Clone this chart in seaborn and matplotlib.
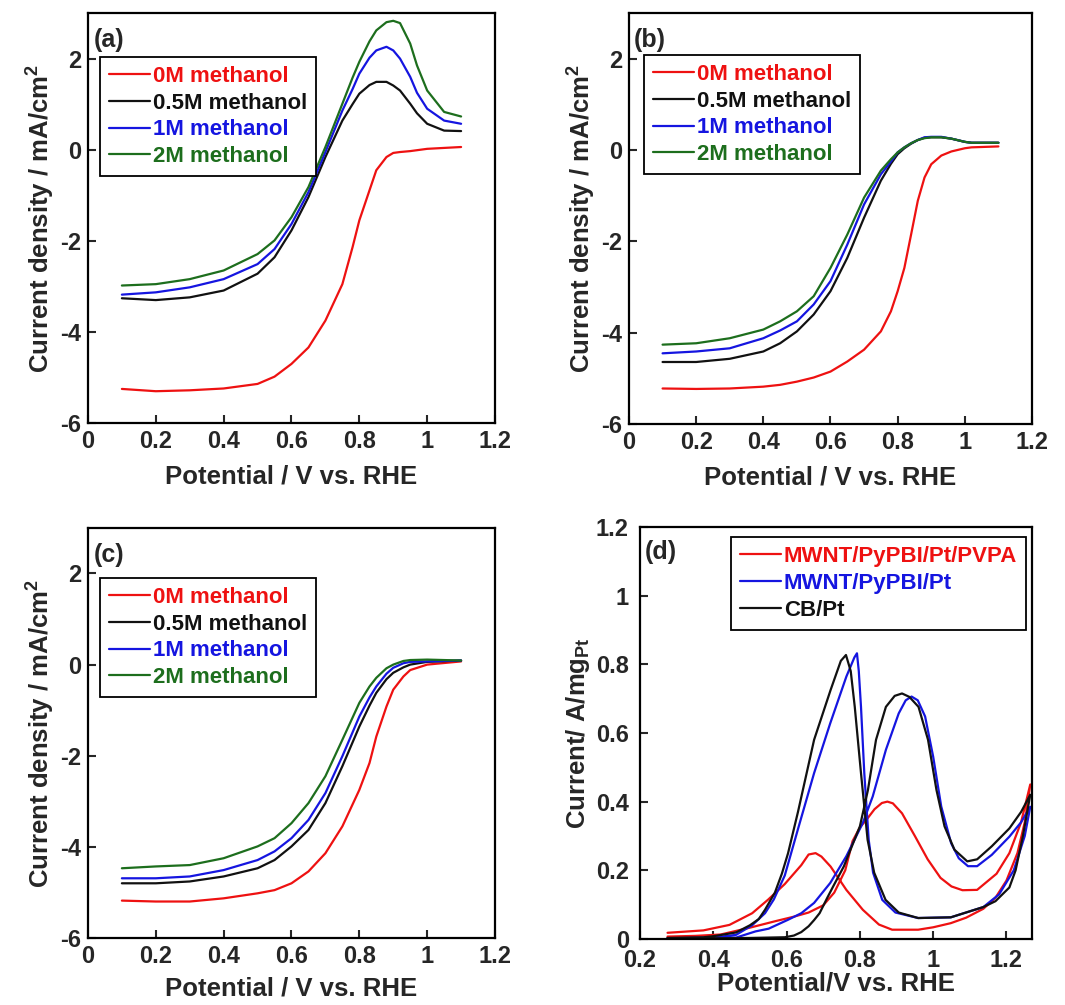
import numpy as np
import pandas as pd
import matplotlib
matplotlib.use("Agg")
import matplotlib.pyplot as plt
from matplotlib.ticker import FuncFormatter
import seaborn as sns

# ---------------- data ----------------
conc_labels = ["0M methanol", "0.5M methanol", "1M methanol", "2M methanol"]
conc_colors = ["#ee1111", "#111111", "#1515e0", "#1d6e1d"]

# panel (a)
a_x = [0.10, 0.20, 0.30, 0.40, 0.50, 0.55, 0.60, 0.65, 0.70, 0.75, 0.78, 0.80,
       0.83, 0.85, 0.88, 0.90, 0.92, 0.95, 0.97, 1.00, 1.05, 1.10]
a_0M = [-5.25, -5.30, -5.28, -5.24, -5.14, -4.98, -4.70, -4.34, -3.75, -2.95, -2.14, -1.55,
        -0.89, -0.45, -0.16, -0.07, -0.05, -0.03, -0.01, 0.02, 0.04, 0.06]
a_05M = [-3.26, -3.30, -3.24, -3.09, -2.72, -2.36, -1.77, -1.04, -0.16, 0.64, 1.00, 1.23,
         1.42, 1.49, 1.49, 1.41, 1.30, 1.01, 0.80, 0.57, 0.42, 0.41]
a_1M = [-3.18, -3.13, -3.02, -2.84, -2.51, -2.18, -1.63, -0.93, -0.05, 0.86, 1.33, 1.67,
        2.02, 2.18, 2.26, 2.18, 2.00, 1.60, 1.25, 0.90, 0.64, 0.57]
a_2M = [-2.98, -2.95, -2.84, -2.65, -2.29, -1.99, -1.48, -0.82, 0.06, 1.01, 1.58, 1.93,
        2.38, 2.62, 2.80, 2.83, 2.78, 2.33, 1.85, 1.30, 0.83, 0.73]

# panel (b)
b_x = [0.10, 0.20, 0.30, 0.40, 0.45, 0.50, 0.55, 0.60, 0.65, 0.70, 0.75, 0.78,
       0.80, 0.82, 0.84, 0.86, 0.88, 0.90, 0.93, 0.96, 1.00, 1.02, 1.10]
b_0M = [-5.22, -5.23, -5.22, -5.18, -5.14, -5.07, -4.98, -4.85, -4.63, -4.37, -3.97, -3.53,
        -3.09, -2.58, -1.85, -1.11, -0.60, -0.31, -0.12, -0.03, 0.04, 0.06, 0.08]
b_05M = [-4.64, -4.64, -4.57, -4.41, -4.23, -3.97, -3.60, -3.09, -2.36, -1.48, -0.67, -0.30,
         -0.09, 0.04, 0.14, 0.22, 0.27, 0.28, 0.28, 0.25, 0.18, 0.16, 0.16]
b_1M = [-4.45, -4.41, -4.34, -4.12, -3.95, -3.75, -3.38, -2.87, -2.07, -1.19, -0.53, -0.25,
        -0.05, 0.06, 0.15, 0.22, 0.28, 0.29, 0.29, 0.25, 0.18, 0.16, 0.16]
b_2M = [-4.26, -4.23, -4.12, -3.93, -3.75, -3.53, -3.20, -2.58, -1.85, -1.04, -0.45, -0.20,
        -0.05, 0.06, 0.15, 0.22, 0.26, 0.28, 0.28, 0.25, 0.18, 0.16, 0.16]

# panel (c)
c_x = [0.10, 0.20, 0.30, 0.40, 0.50, 0.55, 0.60, 0.65, 0.70, 0.75, 0.80, 0.83,
       0.85, 0.88, 0.90, 0.93, 0.95, 1.00, 1.10]
c_0M = [-5.18, -5.20, -5.20, -5.13, -5.02, -4.95, -4.80, -4.54, -4.14, -3.55, -2.75, -2.16,
        -1.58, -0.92, -0.55, -0.26, -0.12, 0.00, 0.07]
c_05M = [-4.80, -4.80, -4.76, -4.65, -4.47, -4.29, -3.99, -3.63, -3.04, -2.23, -1.36, -0.90,
         -0.62, -0.32, -0.18, -0.06, 0.00, 0.06, 0.09]
c_1M = [-4.69, -4.69, -4.65, -4.51, -4.29, -4.10, -3.81, -3.41, -2.82, -2.01, -1.14, -0.72,
        -0.48, -0.20, -0.07, 0.03, 0.06, 0.07, 0.09]
c_2M = [-4.47, -4.43, -4.40, -4.25, -3.99, -3.81, -3.48, -3.04, -2.45, -1.65, -0.84, -0.48,
        -0.29, -0.08, 0.00, 0.08, 0.10, 0.11, 0.09]

# panel (d): cyclic voltammograms (forward then reverse scan)
d_labels = ["MWNT/PyPBI/Pt/PVPA", "MWNT/PyPBI/Pt", "CB/Pt"]
d_colors = ["#ee1111", "#1515e0", "#111111"]

d_pvpa_x = [0.275, 0.35, 0.42, 0.50, 0.57, 0.62, 0.66, 0.70, 0.73, 0.76, 0.78, 0.80, 0.82, 0.84,
            0.86, 0.875, 0.89, 0.915, 0.95, 0.985, 1.02, 1.05, 1.08, 1.12, 1.173, 1.208, 1.24, 1.265,
            1.25, 1.23, 1.20, 1.17, 1.137, 1.09, 1.048, 1.00, 0.959, 0.888, 0.852, 0.808, 0.763,
            0.72, 0.695, 0.679, 0.66, 0.64, 0.595, 0.55, 0.506, 0.444, 0.373, 0.275]
d_pvpa_y = [0.007, 0.009, 0.013, 0.033, 0.052, 0.065, 0.077, 0.098, 0.135, 0.20, 0.285, 0.325, 0.35, 0.378,
            0.396, 0.40, 0.395, 0.366, 0.30, 0.232, 0.178, 0.153, 0.142, 0.143, 0.19, 0.25, 0.34, 0.45,
            0.34, 0.25, 0.17, 0.12, 0.088, 0.062, 0.046, 0.034, 0.027, 0.027, 0.042, 0.085, 0.143,
            0.211, 0.24, 0.25, 0.246, 0.215, 0.16, 0.115, 0.075, 0.041, 0.025, 0.018]

d_mwnt_x = [0.275, 0.40, 0.462, 0.515, 0.551, 0.604, 0.64, 0.675, 0.719, 0.763, 0.808, 0.835, 0.871,
            0.906, 0.925, 0.941, 0.958, 0.978, 1.00, 1.022, 1.049, 1.07, 1.095, 1.12, 1.16, 1.208,
            1.24, 1.265,
            1.25, 1.22, 1.18, 1.137, 1.048, 0.959, 0.897, 0.861, 0.836, 0.824, 0.812, 0.803, 0.797,
            0.792, 0.785, 0.763, 0.719, 0.675, 0.631, 0.595, 0.565, 0.541, 0.506, 0.462, 0.40, 0.275]
d_mwnt_y = [0.002, 0.002, 0.004, 0.022, 0.030, 0.056, 0.075, 0.105, 0.163, 0.241, 0.338, 0.415, 0.551,
            0.657, 0.695, 0.706, 0.695, 0.648, 0.531, 0.386, 0.279, 0.235, 0.212, 0.212, 0.245, 0.298,
            0.34, 0.385,
            0.30, 0.20, 0.13, 0.093, 0.063, 0.061, 0.077, 0.114, 0.193, 0.289, 0.483, 0.676, 0.78,
            0.832, 0.82, 0.764, 0.628, 0.483, 0.32, 0.185, 0.115, 0.075, 0.04, 0.012, 0.004, 0.002]

d_cb_x = [0.275, 0.40, 0.50, 0.595, 0.62, 0.64, 0.66, 0.675, 0.69, 0.711, 0.728, 0.756, 0.80, 0.822,
          0.844, 0.871, 0.895, 0.915, 0.935, 0.960, 0.986, 1.009, 1.031, 1.058, 1.093, 1.12, 1.16,
          1.208, 1.24, 1.265,
          1.245, 1.225, 1.208, 1.17, 1.137, 1.048, 0.959, 0.906, 0.870, 0.839, 0.821, 0.803, 0.786,
          0.775, 0.762, 0.748, 0.72, 0.675, 0.631, 0.604, 0.587, 0.568, 0.541, 0.524, 0.50, 0.462,
          0.40, 0.373, 0.275]
d_cb_y = [0.002, 0.002, 0.003, 0.005, 0.010, 0.020, 0.037, 0.055, 0.075, 0.12, 0.155, 0.211, 0.328, 0.434,
          0.58, 0.676, 0.708, 0.715, 0.705, 0.676, 0.58, 0.434, 0.328, 0.26, 0.226, 0.232, 0.27,
          0.322, 0.37, 0.42,
          0.30, 0.20, 0.15, 0.11, 0.093, 0.063, 0.061, 0.077, 0.114, 0.193, 0.289, 0.483, 0.676,
          0.78, 0.827, 0.81, 0.725, 0.58, 0.37, 0.25, 0.19, 0.135, 0.085, 0.058, 0.04, 0.019,
          0.008, 0.005, 0.003]

ticks_x_abc = [0, 0.2, 0.4, 0.6, 0.8, 1.0, 1.2]
ticks_y_abc = [-6, -4, -2, 0, 2]
ticks_x_d = [0.2, 0.4, 0.6, 0.8, 1.0, 1.2]
ticks_y_d = [0, 0.2, 0.4, 0.6, 0.8, 1.0, 1.2]

# ---------------- style ----------------
sns.set_theme(style="ticks")
FONT = "Liberation Sans"
plt.rcParams["font.family"] = [FONT, "DejaVu Sans"]
plt.rcParams["font.weight"] = "bold"
plt.rcParams["axes.labelweight"] = "bold"
plt.rcParams["axes.unicode_minus"] = False
plt.rcParams["mathtext.default"] = "regular"
plt.rcParams["axes.linewidth"] = 1.6
plt.rcParams["xtick.direction"] = "in"
plt.rcParams["ytick.direction"] = "in"

TICK_FS = 17
LABEL_FS = 18.5
LEG_FS = 16
PANEL_FS = 18

fig = plt.figure(figsize=(10.65, 10.05), dpi=100)
positions = {
    "a": [0.0826, 0.579, 0.3822, 0.408],
    "b": [0.5906, 0.578, 0.3784, 0.409],
    "c": [0.0826, 0.0667, 0.3822, 0.408],
    "d": [0.6010, 0.0657, 0.3681, 0.410],
}
fmt = FuncFormatter(lambda v, p: "%g" % round(v, 3))


def style_axes(ax, xpad=5, ypad=5):
    ax.tick_params(axis="both", which="major", length=6, width=1.5, labelsize=TICK_FS,
                   top=False, right=False)
    ax.tick_params(axis="x", pad=xpad)
    ax.tick_params(axis="y", pad=ypad)
    for lab in ax.get_xticklabels() + ax.get_yticklabels():
        lab.set_fontweight("bold")
    for s in ax.spines.values():
        s.set_linewidth(1.6)
        s.set_color("black")
        s.set_visible(True)


def make_legend(ax, anchor, loc, fs, spacing):
    handles = ax.get_lines()
    labels = [h.get_label() for h in handles]
    leg = ax.legend(handles, labels, loc=loc, bbox_to_anchor=anchor, borderaxespad=0,
                    frameon=True, fancybox=False, edgecolor="black", framealpha=1,
                    prop={"family": FONT, "weight": "bold", "size": fs},
                    handlelength=1.85, handletextpad=0.12, labelspacing=spacing, borderpad=0.4)
    leg.get_frame().set_linewidth(1.3)
    for t, h in zip(leg.get_texts(), handles):
        t.set_color(h.get_color())
    return leg


panels_abc = [
    ("a", a_x, [a_0M, a_05M, a_1M, a_2M], (0.03, 0.893), 8),
    ("b", b_x, [b_0M, b_05M, b_1M, b_2M], (0.037, 0.898), 8),
    ("c", c_x, [c_0M, c_05M, c_1M, c_2M], (0.03, 0.878), 6),
]

for key, xs, series, anchor, xlpad in panels_abc:
    ax = fig.add_axes(positions[key])
    rows = []
    for lab, ys in zip(conc_labels, series):
        for xv, yv in zip(xs, ys):
            rows.append({"E": xv, "j": yv, "conc": lab})
    df = pd.DataFrame(rows)
    sns.lineplot(data=df, x="E", y="j", hue="conc", hue_order=conc_labels,
                 palette=dict(zip(conc_labels, conc_colors)), sort=False, estimator=None,
                 linewidth=1.6, legend=False, ax=ax)
    for line, lab in zip(ax.get_lines(), conc_labels):
        line.set_label(lab)
    ax.set_xlim(0, 1.2)
    ax.set_ylim(-6, 3)
    ax.set_xticks(ticks_x_abc)
    ax.set_yticks(ticks_y_abc)
    ax.xaxis.set_major_formatter(fmt)
    ax.yaxis.set_major_formatter(fmt)
    ax.set_xlabel("Potential / V vs. RHE", fontsize=LABEL_FS, fontweight="bold", labelpad=xlpad)
    ax.set_ylabel("Current density / mA/cm$^2$", fontsize=LABEL_FS, fontweight="bold", labelpad=2)
    style_axes(ax)
    make_legend(ax, anchor, "upper left", LEG_FS, 0.26)
    ax.text(0.013, 0.963, "(%s)" % key, transform=ax.transAxes, ha="left", va="top",
            fontsize=PANEL_FS, fontweight="bold")

# panel (d)
ax = fig.add_axes(positions["d"])
rows = []
for lab, xs, ys in zip(d_labels, [d_pvpa_x, d_mwnt_x, d_cb_x], [d_pvpa_y, d_mwnt_y, d_cb_y]):
    for xv, yv in zip(xs, ys):
        rows.append({"E": xv, "I": yv, "cat": lab})
df_d = pd.DataFrame(rows)
sns.lineplot(data=df_d, x="E", y="I", hue="cat", hue_order=d_labels,
             palette=dict(zip(d_labels, d_colors)), sort=False, estimator=None,
             linewidth=1.6, legend=False, ax=ax)
for line, lab in zip(ax.get_lines(), d_labels):
    line.set_label(lab)
ax.set_xlim(0.2, 1.27)
ax.set_ylim(0, 1.2)
ax.set_xticks(ticks_x_d)
ax.set_yticks(ticks_y_d)
ax.xaxis.set_major_formatter(fmt)
ax.yaxis.set_major_formatter(fmt)
ax.set_xlabel("Potential/V vs. RHE", fontsize=LABEL_FS, fontweight="bold", labelpad=0)
ax.set_ylabel("Current/ A/mg$_{Pt}$", fontsize=LABEL_FS, fontweight="bold", labelpad=3)
style_axes(ax, xpad=7, ypad=8)
make_legend(ax, (0.985, 0.976), "upper right", LEG_FS, 0.28)
ax.text(0.013, 0.968, "(d)", transform=ax.transAxes, ha="left", va="top",
        fontsize=PANEL_FS, fontweight="bold")

fig.savefig("out.png", dpi=100)
